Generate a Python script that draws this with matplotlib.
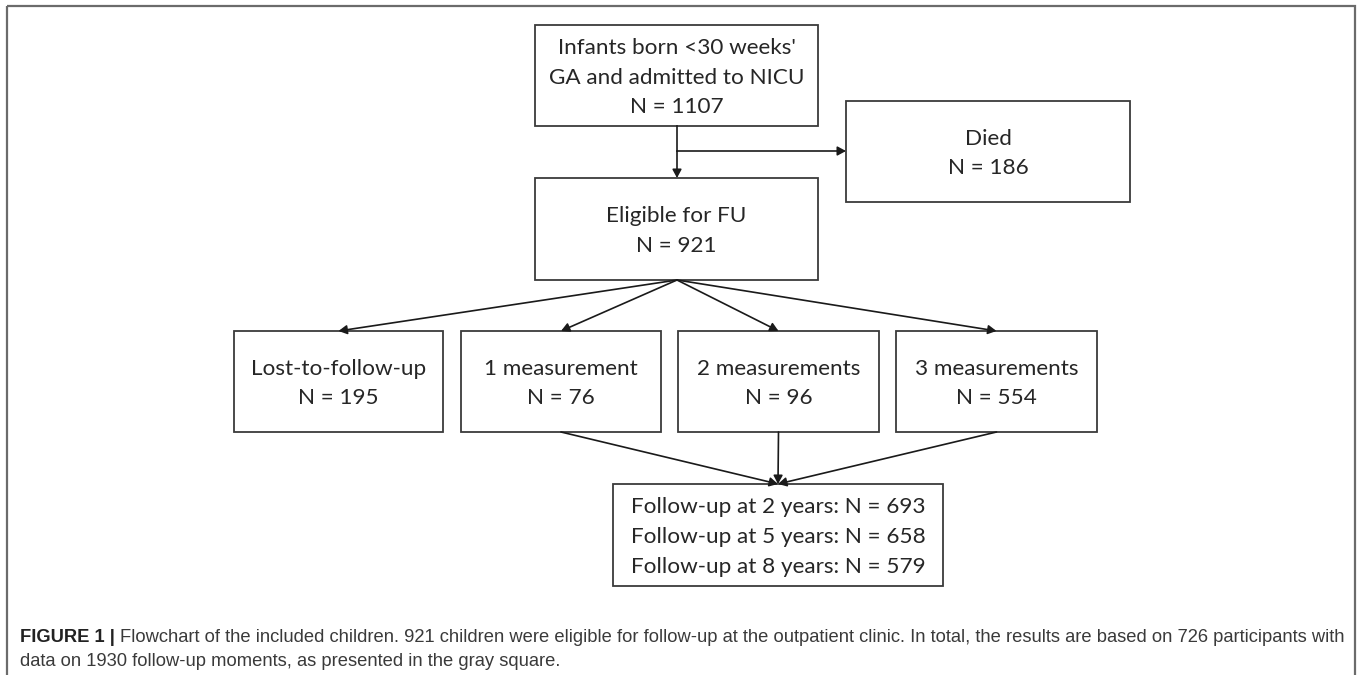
import matplotlib.pyplot as plt
from matplotlib.patches import Rectangle

# counts in the flowchart
total_n = 1107
died_n = 186
eligible_n = 921
group_names = ['Lost-to-follow-up', '1 measurement', '2 measurements', '3 measurements']
group_n = [195, 76, 96, 554]
fu_years = [2, 5, 8]
fu_n = [693, 658, 579]

W, H = 1357, 675
fig = plt.figure(figsize=(W / 100, H / 100), dpi=100)
ax = fig.add_axes([0, 0, 1, 1])
ax.set_xlim(0, W)
ax.set_ylim(H, 0)
ax.axis('off')

box_font = 'Lato'
box_size = 16.2
edge = '#3a3a3a'
txt = '#262626'


def box(x0, y0, x1, y1, text, spacing=1.6):
    ax.add_patch(Rectangle((x0, y0), x1 - x0, y1 - y0, fill=False,
                           edgecolor=edge, lw=1.3))
    ax.text((x0 + x1) / 2, (y0 + y1) / 2 + 2, text, ha='center', va='center',
            family=box_font, fontsize=box_size, color=txt, linespacing=spacing)


def arrow(x0, y0, x1, y1):
    ax.annotate('', xy=(x1, y1), xytext=(x0, y0),
                arrowprops=dict(arrowstyle='-|>,head_length=0.5,head_width=0.27',
                                color='#1a1a1a', lw=1.2, shrinkA=0, shrinkB=0))


# outer frame
ax.add_patch(Rectangle((7, 6), 1348, 700, fill=False, edgecolor='#6b6b6b', lw=1.6))

# top part
box(535, 25, 818, 126, "Infants born <30 weeks'\nGA and admitted to NICU\nN = %d" % total_n)
box(846, 101, 1130, 202, 'Died\nN = %d' % died_n)
box(535, 178, 818, 280, 'Eligible for FU\nN = %d' % eligible_n)
ax.plot([677, 677], [126, 151], color='#1a1a1a', lw=1.2)
arrow(677, 151, 677, 178)
arrow(677, 151, 846, 151)

# groups
gx0 = [234, 461, 678, 896]
gx1 = [443, 661, 879, 1097]
for i in range(len(group_names)):
    box(gx0[i], 331, gx1[i], 432, '%s\nN = %d' % (group_names[i], group_n[i]))
    arrow(677, 280, (gx0[i] + gx1[i]) / 2, 331)

# follow-up box
fu_text = '\n'.join('Follow-up at %d years: N = %d' % (y, n) for y, n in zip(fu_years, fu_n))
box(613, 484, 943, 586, fu_text)
for i in [1, 2, 3]:
    arrow((gx0[i] + gx1[i]) / 2, 432, 778, 484)

# caption
cap_font = 'Liberation Sans'
cap_size = 13.2
lab = ax.text(20, 637, 'FIGURE 1 |', family=cap_font, fontsize=cap_size, fontweight='bold',
              color='#222222', va='center')
fig.canvas.draw()
bb = lab.get_window_extent()
ax.text(bb.x1 + 5, 637, 'Flowchart of the included children. 921 children were eligible for follow-up at the '
        'outpatient clinic. In total, the results are based on 726 participants with',
        family=cap_font, fontsize=cap_size, color='#3a3a3a', va='center')
ax.text(20, 661, 'data on 1930 follow-up moments, as presented in the gray square.',
        family=cap_font, fontsize=cap_size, color='#3a3a3a', va='center')

fig.savefig('out.png', dpi=100)
